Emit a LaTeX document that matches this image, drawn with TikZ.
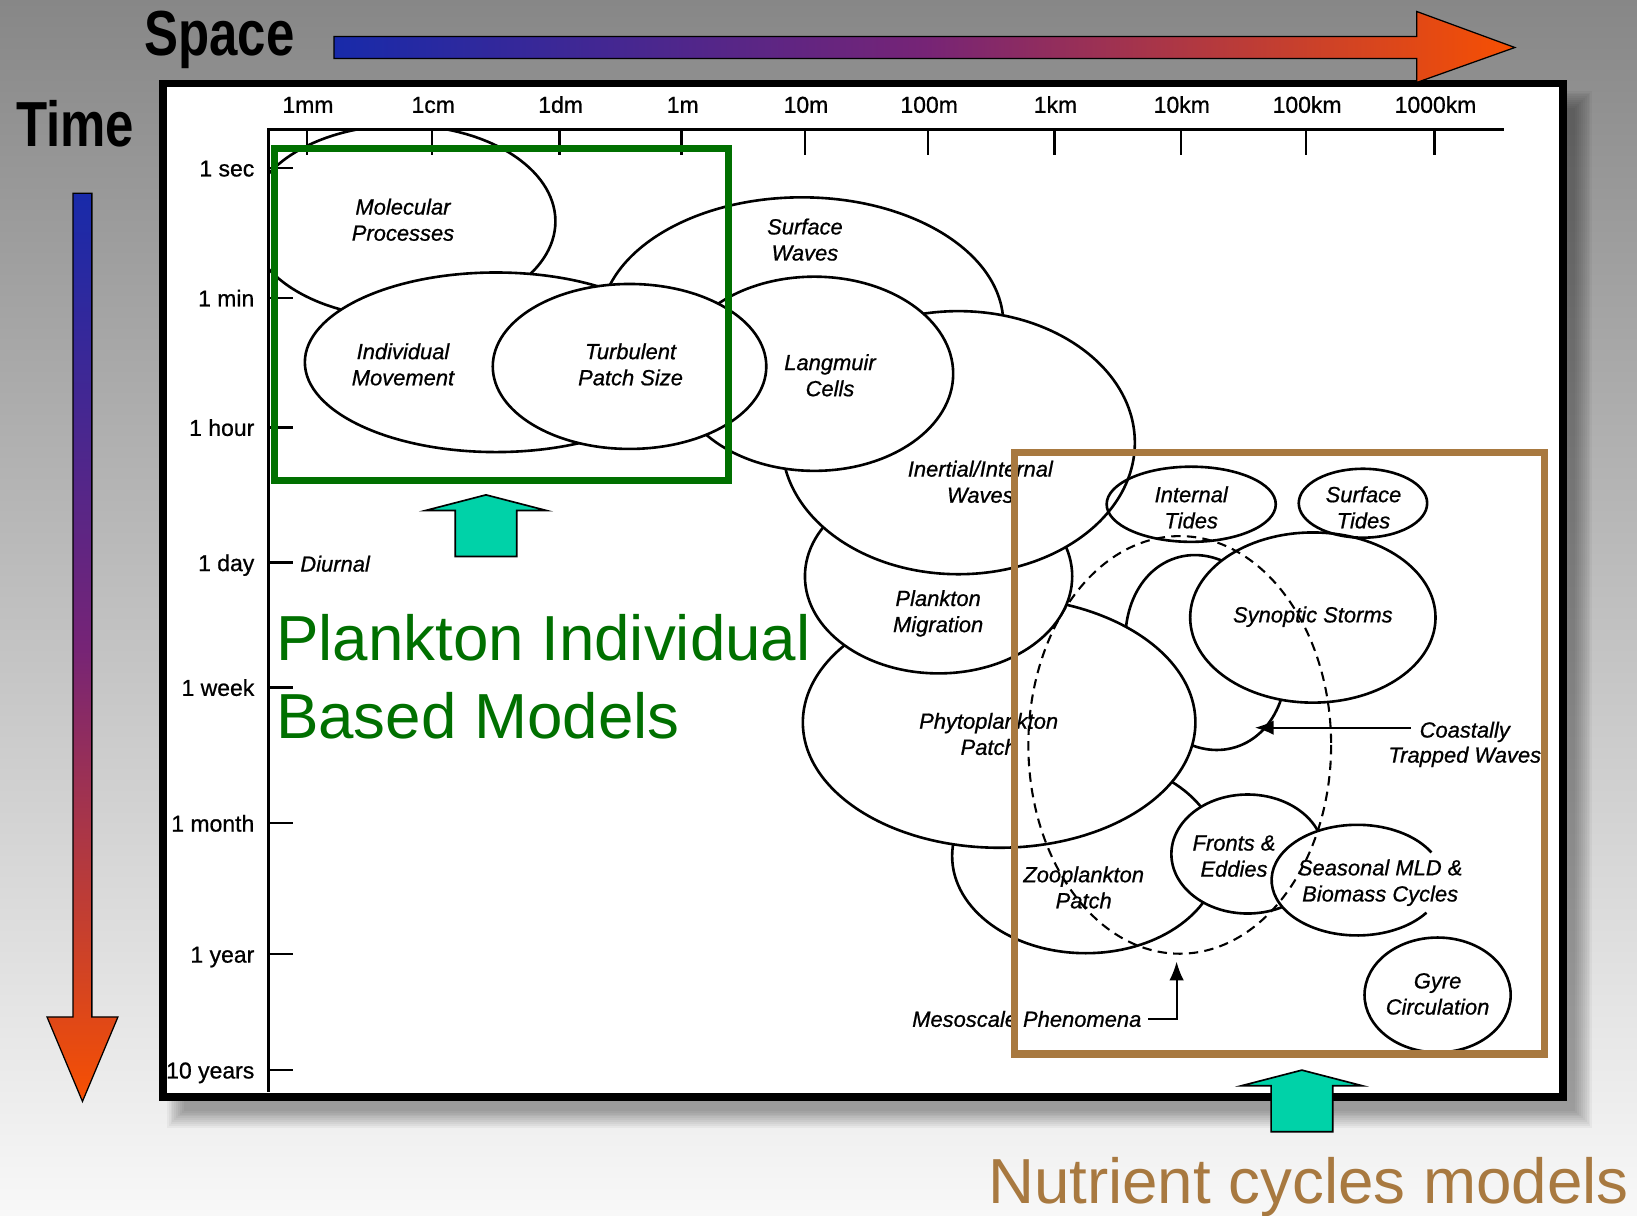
\documentclass[tikz,border=0pt]{standalone}
\usepackage{fontspec}
\setmainfont{Liberation Sans}
\newfontfamily\chartfont{Liberation Sans}[FakeBold=0.8]
\usetikzlibrary{arrows.meta}

\definecolor{bgtop}{RGB}{135,135,135}
\definecolor{bgbot}{RGB}{248,248,248}
\definecolor{scaleblue}{RGB}{24,42,170}
\definecolor{scalemid}{RGB}{118,36,118}
\definecolor{scaleorange}{RGB}{247,80,2}
\definecolor{ibmgreen}{RGB}{0,112,0}
\definecolor{nutbrown}{RGB}{168,121,64}
\definecolor{mintfill}{RGB}{0,210,168}

\begin{document}
\begin{tikzpicture}[x=0.5pt, y=-0.5pt,
  region/.style={draw=black, line width=1.25pt, fill=white},
  ring/.style={draw=black, line width=1.25pt},
  lbl/.style={font=\chartfont\fontsize{10.5}{12.5}\selectfont\itshape, align=center, inner sep=0pt},
  axlab/.style={font=\chartfont\fontsize{11}{13}\selectfont, inner sep=0pt},
  axisline/.style={line width=1.2pt},
  conn/.style={line width=1pt, -{Latex[length=9pt,width=7pt]}},
  mesodash/.style={draw=black, line width=1pt, dash pattern=on 4.5pt off 3pt},
  headline/.style={font=\fontsize{30.5}{36}\selectfont\bfseries, inner sep=0pt, anchor=base west},
  caption/.style={font=\fontsize{30.5}{37}\selectfont, inner sep=0pt, anchor=base west},
  uparrow/.pic={\draw[line width=0.8pt, fill=mintfill] (0,0) -- (58,15) -- (29.5,15) -- (29.5,59) -- (-29.5,59) -- (-29.5,15) -- (-58,15) -- cycle;}
]
\useasboundingbox (0,0) rectangle (1568,1164);

% slide background
\shade[top color=bgtop, bottom color=bgbot] (0,0) rectangle (1568,1164);

% soft drop shadow under the chart
\foreach \k in {0,...,9}{
  \pgfmathsetmacro\d{8-1.8*\k}
  \fill[black, opacity=0.04] (168+\d,95+\d) rectangle (1517-\d,1072-\d);
}
\fill[white] (156.5,80) rectangle (1497,1050.5);

% ---- phenomena (back to front) ----
\path[region] (1040,820) ellipse [x radius=128, y radius=93];                 % zooplankton
\path[region, rotate around={17.7:(1155,625)}] (1155,625) ellipse [x radius=75, y radius=95]; % coastally trapped waves
\path[region] (1257.5,591.5) ellipse [x radius=117.5, y radius=81.5];        % synoptic storms
\path[region] (957,692) ellipse [x radius=188, y radius=120];                % phytoplankton
\path[region] (899,552) ellipse [x radius=128, y radius=93];                 % plankton migration
\path[region] (768,310) ellipse [x radius=193, y radius=121];                % surface waves
\path[region] (918,424) ellipse [x radius=169, y radius=126];                % inertial waves
\path[region] (780,358) ellipse [x radius=133, y radius=93];                 % langmuir cells
\begin{scope}
  \clip (257,124) rectangle (1441,1046);
  \path[region] (385,212) ellipse [x radius=147, y radius=92];               % molecular processes
\end{scope}
\path[region] (475,347) ellipse [x radius=183, y radius=86];                 % individual movement
\path[region] (603,351) ellipse [x radius=131, y radius=79];                 % turbulent patch size
\path[region] (1195,818) ellipse [x radius=73, y radius=57];                 % fronts and eddies
\fill[white] (1300,843) ellipse [x radius=82, y radius=53];                  % seasonal cycles
\draw[ring] ([shift={(36:82 and 53)}]1300,843) arc [start angle=36, end angle=330, x radius=82, y radius=53];
\path[region] (1377,953) ellipse [x radius=70, y radius=55];                 % gyre circulation
\path[ring] (1141,483) ellipse [x radius=81, y radius=36];                   % internal tides
\path[ring] (1305.5,482) ellipse [x radius=61.5, y radius=33];               % surface tides
\path[mesodash] (1130,713.5) ellipse [x radius=145, y radius=200];           % mesoscale phenomena

% ---- axes ----
\draw[axisline] (257,123) -- (257,1046);
\draw[axisline] (257,124) -- (1441,124);
\foreach \x/\t [count=\i] in {294/1mm, 414/1cm, 536/1dm, 653/1m, 771/10m, 889/100m, 1010/1km, 1131/10km, 1251/100km, 1374/1000km}{
  \draw[axisline] (\x,124) -- (\x,148);
  \node[axlab, anchor=base] (top\i) at (\x+1,108) {\t};
}
\foreach \y/\t [count=\i] in {161/1 sec, 285.5/1 min, 409.5/1 hour, 539/1 day, 658.5/1 week, 788.5/1 month, 914/1 year, 1025/10 years}{
  \draw[axisline] (257,\y) -- (281,\y);
  \node[axlab, anchor=base east] (left\i) at (244,\y+8) {\t};
}
\node[lbl] (diurnal) at (321,540) {Diurnal};

% ---- labels ----
\node[lbl] (molecular) at (386,210.5) {Molecular\\Processes};
\node[lbl] (surfwaves) at (771,229.5) {Surface\\Waves};
\node[lbl] (individual) at (386,349) {Individual\\Movement};
\node[lbl] (turbulent) at (604,349) {Turbulent\\Patch Size};
\node[lbl] (langmuir) at (795,359.5) {Langmuir\\Cells};
\node[lbl] (inertial) at (939,461.5) {Inertial/Internal\\Waves};
\node[lbl] (inttides) at (1141,486) {Internal\\Tides};
\node[lbl] (surftides) at (1306,486) {Surface\\Tides};
\node[lbl] (synoptic) at (1257.5,590.7) {Synoptic Storms};
\node[lbl] (migration) at (898.6,587.5) {Plankton\\Migration};
\node[lbl] (phyto) at (947,703) {Phytoplankton\\Patch};
\node[lbl] (ctwa) at (1403,701) {Coastally};
\node[lbl] (ctwb) at (1403,725) {Trapped Waves};
\node[lbl] (fronts) at (1182,820) {Fronts \&\\Eddies};
\node[lbl] (zoo) at (1038,850) {Zooplankton\\Patch};
\node[lbl] (seasonal) at (1322,845.5) {Seasonal MLD \&\\Biomass Cycles};
\node[lbl] (gyre) at (1377,952) {Gyre\\Circulation};
\node[lbl] (meso) at (983.5,976) {Mesoscale Phenomena};

% ---- pointers ----
\coordinate (ctwtip) at (1202,697);
\coordinate (mesotip) at (1127,921);
\draw[conn] ([xshift=-4pt, yshift=2pt]ctwa.west) -- (ctwtip);
\draw[conn] ([xshift=3pt]meso.east) -| (mesotip);

% ---- model ranges ----
\draw[ibmgreen, line width=3.25pt] (263,142) rectangle (698,460.5);
\draw[nutbrown, line width=3.5pt] (971.5,433.5) rectangle (1479.5,1009.5);

% chart frame
\draw[line width=3.75pt] (156.5,80) rectangle (1497,1050.5);

% ---- scale arrows ----
\shade[left color=scaleblue, right color=scaleorange, middle color=scalemid, draw=black, line width=0.6pt]
  (320,35) -- (1357,35) -- (1357,11) -- (1451,45.5) -- (1357,79) -- (1357,56) -- (320,56) -- cycle;
\shade[top color=scaleblue, bottom color=scaleorange, middle color=scalemid, draw=black, line width=0.6pt]
  (70,185) -- (88,185) -- (88,974) -- (113,974) -- (79,1055) -- (45,974) -- (70,974) -- cycle;
\node[headline] (space) at (138,52.7) {\scalebox{0.8}[1]{Space}};
\node[headline] (time) at (15,140.5) {\scalebox{0.8}[1]{Time}};

% ---- model captions ----
\pic (ibmarrow) at (465.5,474) {uparrow};
\pic (nutarrow) at (1247,1025) {uparrow};
\node[caption, text=ibmgreen] (ibm1) at (264,633) {Plankton Individual};
\node[caption, text=ibmgreen] (ibm2) at (264,707) {Based Models};
\node[caption, text=nutbrown] (nut) at (946,1153) {Nutrient cycles models};
\end{tikzpicture}
\end{document}
